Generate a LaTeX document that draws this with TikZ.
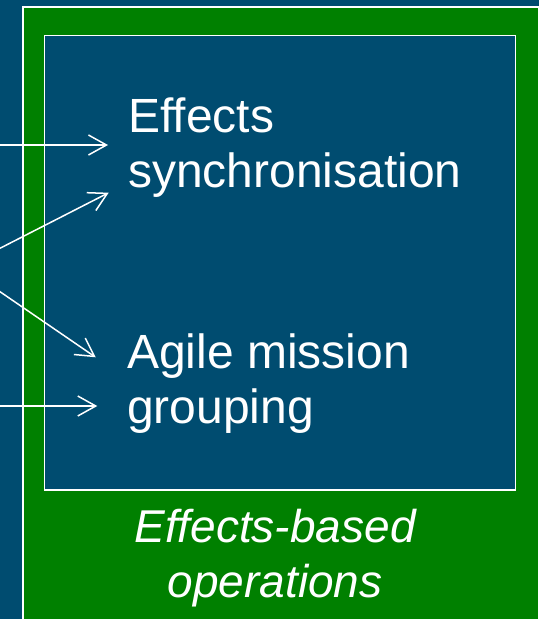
\documentclass[tikz,border=0pt]{standalone}
\usepackage{fontspec}
\setmainfont{Liberation Sans}
\usetikzlibrary{arrows.meta}
\definecolor{bgblue}{RGB}{0,76,112}
\definecolor{frgreen}{RGB}{0,128,0}
\begin{document}
\begin{tikzpicture}[x=1pt,y=-1pt,
  arr/.style={draw=white,line width=1.5pt,-{Straight Barb[length=18pt,width=20pt,line width=1.5pt]}},
  lbl/.style={text=white,font=\fontsize{48}{55}\selectfont,align=left,inner sep=0pt,anchor=base west},
  ital/.style={text=white,font=\fontsize{46}{55}\selectfont\itshape,align=center,inner sep=0pt,anchor=base},
  frame/.style={draw=white,anchor=north west,inner sep=0pt}]
\useasboundingbox (0,0) rectangle (539,619);
\clip (0,0) rectangle (539,619);
\fill[bgblue] (0,0) rectangle (539,619);
\node[frame,line width=1.7pt,fill=frgreen,minimum width=515.5pt,minimum height=634pt] (outer) at (22,6) {};
\node[frame,line width=1.5pt,fill=bgblue,minimum width=471pt,minimum height=454.5pt] (inner) at (43.5,34.5) {};
\node[lbl] (sync) at (128,187) {Effects\\synchronisation};
\node[lbl] (agile) at (127,423) {Agile mission\\grouping};
\node[ital] (ebo) at (275,597) {Effects-based\\operations};
\coordinate (s1) at (-5,145);
\coordinate (t1) at (108,145);
\coordinate (s2) at (-20,258.5);
\coordinate (t2) at (108.7,192.7);
\coordinate (s3) at (-20,278);
\coordinate (t3) at (95.7,357.3);
\coordinate (s4) at (-5,406);
\coordinate (t4) at (97.3,406);
\draw[arr] (s1) -- (t1);
\draw[arr] (s2) -- (t2);
\draw[arr] (s3) -- (t3);
\draw[arr] (s4) -- (t4);
\end{tikzpicture}
\end{document}
